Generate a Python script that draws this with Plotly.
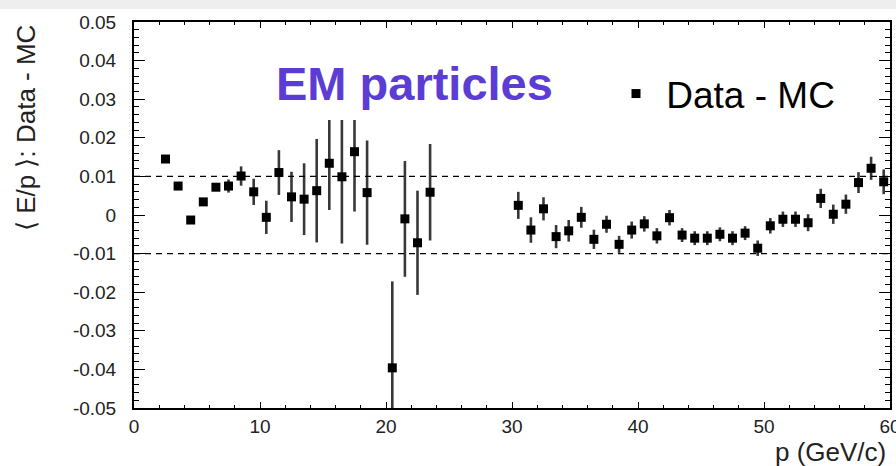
import plotly.graph_objects as go

# ---- data ----
p_values = [2.5, 3.5, 4.5, 5.5, 6.5, 7.5, 8.5, 9.5, 10.5, 11.5, 12.5, 13.5, 14.5,
            15.5, 16.5, 17.5, 18.5, 20.5, 21.5, 22.5, 23.5,
            30.5, 31.5, 32.5, 33.5, 34.5, 35.5, 36.5, 37.5, 38.5, 39.5, 40.5,
            41.5, 42.5, 43.5, 44.5, 45.5, 46.5, 47.5, 48.5, 49.5, 50.5, 51.5,
            52.5, 53.5, 54.5, 55.5, 56.5, 57.5, 58.5, 59.5]
data_minus_mc = [0.0145, 0.0075, -0.0013, 0.0034, 0.0072, 0.0075, 0.0101, 0.0060,
                 -0.0006, 0.0110, 0.0047, 0.0041, 0.0063, 0.0134, 0.0099, 0.0164,
                 0.0058, -0.0396, -0.0010, -0.0072, 0.0059,
                 0.0025, -0.0039, 0.0016, -0.0056, -0.0041, -0.0006, -0.0063,
                 -0.0024, -0.0076, -0.0039, -0.0023, -0.0054, -0.0007, -0.0052,
                 -0.0060, -0.0060, -0.0050, -0.0060, -0.0047, -0.0086, -0.0028,
                 -0.0011, -0.0011, -0.0020, 0.0043, 0.0002, 0.0028, 0.0084,
                 0.0121, 0.0086]
errors = [0.0008, 0.0010, 0.0010, 0.0010, 0.0010, 0.0017, 0.0025, 0.0034,
          0.0043, 0.0058, 0.0065, 0.0093, 0.0134, 0.0121, 0.0173, 0.0155,
          0.0135, 0.0224, 0.0150, 0.0135, 0.0125,
          0.0035, 0.0033, 0.0030, 0.0030, 0.0028, 0.0027, 0.0025, 0.0022,
          0.0022, 0.0022, 0.0020, 0.0020, 0.0020, 0.0018, 0.0018, 0.0018,
          0.0018, 0.0018, 0.0018, 0.0020, 0.0020, 0.0020, 0.0020, 0.0022,
          0.0025, 0.0025, 0.0025, 0.0027, 0.0030, 0.0032]
y_tickvals = [-0.05, -0.04, -0.03, -0.02, -0.01, 0, 0.01, 0.02, 0.03, 0.04, 0.05]
y_ticktext = ["-0.05", "-0.04", "-0.03", "-0.02", "-0.01", "0",
              "0.01", "0.02", "0.03", "0.04", "0.05"]
x_tickvals = [0, 10, 20, 30, 40, 50, 60]
ref_lines = [0.01, -0.01]

series_name = " Data - MC"
title_text = "<b>EM particles</b>"
x_title = "p (GeV/c)"
y_title = "⟨ E/p ⟩: Data - MC"

# ---- layout geometry (pixels) ----
W, H = 896, 466
L, R, T, B = 134, 890, 22, 408


def px_x(x):
    return (x - L) / (R - L)


def px_y(y):
    return (B - y) / (B - T)


FONT = "Liberation Sans, Arial, sans-serif"

fig = go.Figure()
fig.add_trace(go.Scatter(
    x=p_values, y=data_minus_mc, mode="markers", name=series_name,
    marker=dict(symbol="square", size=9, color="black", line=dict(width=0)),
    error_y=dict(type="data", array=errors, visible=True, color="#383838",
                 thickness=2.6, width=0),
    cliponaxis=True, showlegend=True,
))

shapes = []
for v in ref_lines:
    shapes.append(dict(type="line", xref="paper", x0=0, x1=1, yref="y", y0=v, y1=v,
                       line=dict(color="black", width=1.3, dash="6px,5px"), layer="above"))
# top grey strip of the page
shapes.append(dict(type="rect", xref="paper", yref="paper",
                   x0=px_x(0), x1=px_x(W), y0=px_y(9), y1=px_y(0),
                   fillcolor="#eeeeee", line=dict(width=0), layer="below"))
# white box behind the title text (hides tops of error bars)
shapes.append(dict(type="rect", xref="paper", yref="paper",
                   x0=px_x(300), x1=px_x(380), y0=px_y(120), y1=px_y(40),
                   fillcolor="white", line=dict(width=0), layer="above"))

axis_common = dict(
    showline=True, linewidth=2, linecolor="black", mirror="allticks",
    ticks="inside", tickcolor="black", showgrid=False, zeroline=False,
    tickfont=dict(family=FONT, size=19, color="#222222"),
    ticklabeloverflow="allow", automargin=False,
)

fig.update_layout(
    width=W, height=H,
    margin=dict(l=L, r=W - R, t=T, b=H - B, autoexpand=False),
    paper_bgcolor="white", plot_bgcolor="white",
    xaxis=dict(range=[0, 60], tickmode="array", tickvals=x_tickvals,
               ticklen=6, tickwidth=1, ticklabelstandoff=0,
               minor=dict(tickmode="linear", tick0=0, dtick=2, ticks="inside",
                          ticklen=3, tickcolor="black"),
               **axis_common),
    yaxis=dict(range=[-0.05, 0.05], tickmode="array", tickvals=y_tickvals,
               ticktext=y_ticktext, ticklen=11, tickwidth=1, ticklabelstandoff=12,
               minor=dict(tickmode="linear", tick0=0, dtick=0.002, ticks="inside",
                          ticklen=5, tickcolor="black"),
               **axis_common),
    shapes=shapes,
    legend=dict(x=px_x(616), xanchor="left", y=px_y(94), yanchor="middle",
                bgcolor="rgba(0,0,0,0)", font=dict(family=FONT, size=37, color="black")),
    annotations=[
        dict(text=title_text, xref="paper", yref="paper", x=px_x(274), y=px_y(83),
             xanchor="left", yanchor="middle", showarrow=False,
             font=dict(family=FONT, size=47, color="#5b3dd6")),
        dict(text=y_title, textangle=-90, xref="paper", yref="paper",
             x=px_x(26), y=px_y(128), xanchor="center", yanchor="middle",
             showarrow=False, font=dict(family=FONT, size=26, color="#222222")),
        dict(text=x_title, xref="paper", yref="paper", x=px_x(888), y=px_y(452),
             xanchor="right", yanchor="middle", showarrow=False,
             font=dict(family=FONT, size=26, color="#222222")),
    ],
)

fig.write_html("out.html")
